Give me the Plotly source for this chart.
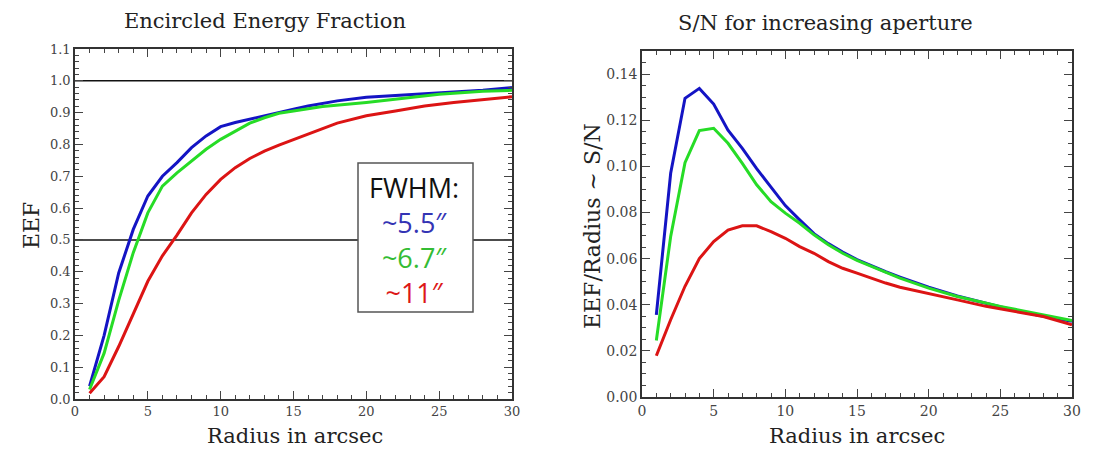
import plotly.graph_objects as go

# ---- Data: Encircled Energy Fraction (left panel) ----
eef_r_blue = [1, 2, 3, 4, 5, 6, 7, 8, 9, 10, 11, 12, 13, 14, 15, 16, 18, 20, 22, 25, 28, 30]
eef_blue = [0.04, 0.20, 0.396, 0.533, 0.638, 0.70, 0.743, 0.79, 0.827, 0.856, 0.869, 0.88,
            0.89, 0.90, 0.911, 0.921, 0.937, 0.948, 0.953, 0.961, 0.97, 0.979]

eef_r_green = [1, 2, 3, 4, 5, 6, 7, 8, 9, 10, 11, 12, 13, 14, 15, 17, 20, 22, 25, 28, 30]
eef_green = [0.03, 0.144, 0.31, 0.46, 0.585, 0.669, 0.711, 0.748, 0.785, 0.816, 0.842, 0.867,
             0.884, 0.898, 0.905, 0.919, 0.932, 0.942, 0.958, 0.967, 0.97]

eef_r_red = [1, 2, 3, 4, 5, 6, 7, 8, 9, 10, 11, 12, 13, 14, 15, 16, 17, 18, 19, 20, 22, 24, 26, 28, 30]
eef_red = [0.018, 0.07, 0.165, 0.27, 0.37, 0.45, 0.515, 0.585, 0.643, 0.69, 0.727, 0.756,
           0.779, 0.798, 0.816, 0.832, 0.85, 0.867, 0.879, 0.89, 0.905, 0.921, 0.932, 0.942, 0.95]

# ---- Data: S/N proxy EEF/Radius (right panel) ----
sn_r_blue = [1, 2, 3, 4, 5, 6, 7, 8, 9, 10, 11, 12, 13, 14, 15, 16, 17, 18, 19, 20, 22, 24, 26, 28, 30]
sn_blue = [0.0356, 0.097, 0.1295, 0.1338, 0.127, 0.1157, 0.1078, 0.099, 0.091, 0.083, 0.0768,
           0.0708, 0.0665, 0.0628, 0.0596, 0.0568, 0.0543, 0.052, 0.0498, 0.0476, 0.0438,
           0.0405, 0.0375, 0.035, 0.0328]

sn_r_green = [1, 2, 3, 4, 5, 6, 7, 8, 9, 10, 11, 12, 13, 14, 15, 16, 18, 20, 22, 25, 28, 30]
sn_green = [0.0245, 0.0696, 0.1016, 0.1155, 0.1165, 0.110, 0.1013, 0.092, 0.0847, 0.0797,
            0.0753, 0.0703, 0.066, 0.0623, 0.0592, 0.0566, 0.0515, 0.0472, 0.0436, 0.0393,
            0.0356, 0.0332]

sn_r_red = [1, 2, 3, 4, 5, 6, 7, 8, 9, 10, 11, 12, 13, 14, 15, 16, 17, 18, 20, 22, 24, 26, 28, 30]
sn_red = [0.0179, 0.0335, 0.048, 0.060, 0.0674, 0.0724, 0.0742, 0.0742, 0.0717, 0.0688,
          0.0652, 0.0623, 0.0587, 0.0558, 0.0537, 0.0515, 0.0494, 0.0476, 0.045, 0.0421,
          0.0393, 0.0371, 0.0349, 0.0313]

legend_title = "FWHM:"
legend_labels = ["~5.5\u2033", "~6.7\u2033", "~11\u2033"]

BLUE = "#1414c4"
GREEN = "#26dc26"
RED = "#dc1414"
TXT_COLORS = ["#3434b4", "#34bc34", "#dc1818"]

fig = go.Figure()
lw = 3
for xs, ys, c in [(eef_r_blue, eef_blue, BLUE), (eef_r_green, eef_green, GREEN), (eef_r_red, eef_red, RED)]:
    fig.add_trace(go.Scatter(x=xs, y=ys, mode="lines", line=dict(color=c, width=lw),
                             xaxis="x", yaxis="y", showlegend=False))
for xs, ys, c in [(sn_r_blue, sn_blue, BLUE), (sn_r_green, sn_green, GREEN), (sn_r_red, sn_red, RED)]:
    fig.add_trace(go.Scatter(x=xs, y=ys, mode="lines", line=dict(color=c, width=lw),
                             xaxis="x2", yaxis="y2", showlegend=False))

W, H = 1119, 451
OFF = 8  # page body margin offsets the figure in the browser


def px(x):
    return (x - OFF) / W


def py(y):
    return (H - (y - OFF)) / H


def axstyle(size):
    return dict(showline=True, linecolor="#333", linewidth=1.5, mirror="allticks",
                ticks="inside", ticklen=8, tickcolor="#444", tickwidth=1,
                showgrid=False, zeroline=False, automargin=False,
                tickfont=dict(family="DejaVu Serif", size=size, color="#444"))


fig.update_layout(
    width=W, height=H,
    margin=dict(l=0, r=0, t=0, b=0),
    paper_bgcolor="white", plot_bgcolor="white",
    xaxis=dict(domain=[px(75), px(512)], range=[0, 30], dtick=5, tick0=0,
               minor=dict(dtick=1, ticks="inside", ticklen=4, tickcolor="#444"),
               anchor="y", **axstyle(13)),
    yaxis=dict(domain=[py(399), py(49)], range=[0, 1.1], dtick=0.1, tick0=0,
               tickformat=".1f",
               minor=dict(dtick=0.02, ticks="inside", ticklen=4, tickcolor="#444"),
               anchor="x", **axstyle(13)),
    xaxis2=dict(domain=[px(642), px(1072)], range=[0, 30], dtick=5, tick0=0,
                minor=dict(dtick=1, ticks="inside", ticklen=4, tickcolor="#444"),
                anchor="y2", **axstyle(14)),
    yaxis2=dict(domain=[py(397), py(51)], range=[0, 0.15], dtick=0.02, tick0=0,
                tickformat=".2f",
                minor=dict(dtick=0.005, ticks="inside", ticklen=4, tickcolor="#444"),
                anchor="x2", **axstyle(14)),
)

# reference lines at EEF = 1.0 and 0.5
for yv in [1.0, 0.5]:
    fig.add_shape(type="line", xref="x", yref="y", x0=0, x1=30, y0=yv, y1=yv,
                  line=dict(color="#111", width=1.5), layer="below")

# legend box
fig.add_shape(type="rect", xref="paper", yref="paper",
              x0=px(358), x1=px(473), y0=py(312), y1=py(163),
              fillcolor="white", line=dict(color="#555", width=1.5), layer="above")


def ann(text, x, y, size, color="#222", family="DejaVu Serif", angle=0):
    fig.add_annotation(text=text, x=px(x), y=py(y), xref="paper", yref="paper",
                       showarrow=False, xanchor="center", yanchor="middle",
                       font=dict(family=family, size=size, color=color), textangle=angle)


ann("Encircled Energy Fraction", 265, 21, 21)
ann("S/N for increasing aperture", 825, 23, 21)
ann("Radius in arcsec", 295, 436, 21)
ann("Radius in arcsec", 857, 436, 21)
ann("EEF", 31, 226, 22, angle=-90)
ann("EEF/Radius ~ S/N", 592, 226, 22, angle=-90)

legend_text = "<span style='color:#111'>" + legend_title + "</span>"
for lab, col in zip(legend_labels, TXT_COLORS):
    legend_text += "<br><span style='color:" + col + "'>" + lab + "</span>"
ann(legend_text, 414, 240, 27, color="#111", family="Open Sans")

fig.write_html("out.html")
